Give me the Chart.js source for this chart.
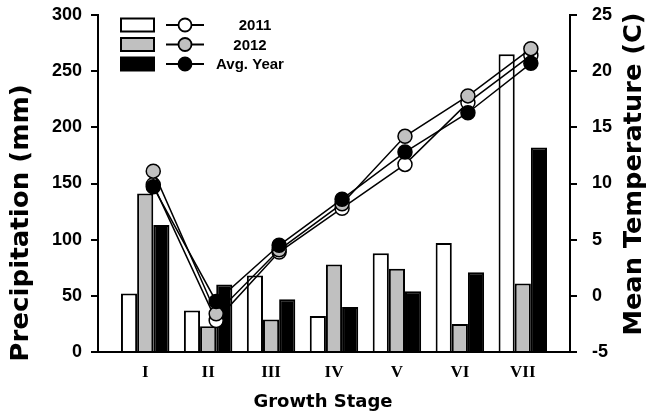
<!DOCTYPE html>
<html>
<head>
<meta charset="utf-8">
<script src="https://cdn.jsdelivr.net/npm/chart.js@4/dist/chart.umd.min.js"></script>
<style>
  html, body { margin: 0; padding: 0; background: #fff; }
  canvas { display: block; }
</style>
</head>
<body>
<canvas id="climateChart" width="648" height="419"></canvas>
<script>
// growth stages and stage-wise climate values
const stages = ['I', 'II', 'III', 'IV', 'V', 'VI', 'VII'];

const precip2011 = [52, 37, 68, 32, 88, 97, 265];
const precip2012 = [141, 23, 29, 78, 74, 25, 61];
const precipAvg = [113, 60, 47, 40, 54, 71, 182];

const temp2011 = [9.9, -2.2, 3.9, 7.8, 11.7, 17.2, 21.4];
const temp2012 = [11.1, -1.6, 4.1, 8.2, 14.2, 17.8, 22.0];
const tempAvg = [9.7, -0.5, 4.5, 8.6, 12.8, 16.3, 20.7];

const precipTicks = [0, 50, 100, 150, 200, 250, 300];
const tempTicks = [-5, 0, 5, 10, 15, 20, 25];

const seriesNames = ['2011', '2012', 'Avg. Year'];

(() => {
    const chartEl = document.getElementById('climateChart');
    const context = chartEl.getContext('2d');

    // temperature markers sit between the grey and black bars
    const lineShift = 0.128;
    const fills = ['#ffffff', '#c0c0c0', '#000000'];

    const barSet = (label, values, fill, order) => ({
        type: 'bar',
        label: label,
        data: values.map((v, i) => ({ x: i + 1, y: v })),
        backgroundColor: fill,
        borderColor: '#000000',
        borderWidth: 2,
        borderSkipped: 'bottom',
        categoryPercentage: 0.77,
        barPercentage: 1.0,
        yAxisID: 'y',
        order: order,
    });

    const lineSet = (label, values, fill, order) => ({
        type: 'line',
        label: label,
        data: values.map((v, i) => ({ x: i + 1 + lineShift, y: v })),
        borderColor: '#000000',
        borderWidth: 1.5,
        pointBackgroundColor: fill,
        pointBorderColor: '#000000',
        pointBorderWidth: 1.5,
        pointRadius: 7,
        tension: 0,
        fill: false,
        clip: false,
        yAxisID: 'y2',
        order: order,
    });

    const datasets = [
        barSet(seriesNames[0], precip2011, fills[0], 4),
        barSet(seriesNames[1], precip2012, fills[1], 5),
        barSet(seriesNames[2], precipAvg, fills[2], 6),
        lineSet(seriesNames[0], temp2011, fills[0], 3),
        lineSet(seriesNames[1], temp2012, fills[1], 2),
        lineSet(seriesNames[2], tempAvg, fills[2], 1),
    ];

    const titleFamily = '"DejaVu Sans", Verdana, sans-serif';

    // rotated title, stretched a little along the text direction
    const sideTitle = (ctx, text, x, y, stretch) => {
        ctx.save();
        ctx.translate(x, y);
        ctx.rotate(-Math.PI / 2);
        ctx.scale(stretch, 1);
        ctx.fillText(text, 0, 0);
        ctx.restore();
    };

    // box + marker legend and the three axis titles
    const decorations = {
        id: 'decorations',
        afterDraw(chart) {
            const ctx = chart.ctx;
            const left = chart.chartArea.left;
            const rowY = [25, 44.5, 64];
            const textX = [157, 152, 152];
            ctx.save();
            seriesNames.forEach((name, i) => {
                const y = rowY[i];
                ctx.fillStyle = fills[i];
                ctx.strokeStyle = '#000';
                ctx.lineWidth = 2;
                ctx.fillRect(left + 23, y - 6.5, 33, 13);
                ctx.strokeRect(left + 23, y - 6.5, 33, 13);

                ctx.lineWidth = 1.8;
                ctx.beginPath();
                ctx.moveTo(left + 68, y);
                ctx.lineTo(left + 106, y);
                ctx.stroke();
                ctx.beginPath();
                ctx.arc(left + 87, y, 6.5, 0, Math.PI * 2);
                ctx.fill();
                ctx.stroke();

                ctx.fillStyle = '#000';
                ctx.font = 'bold 15px "Liberation Sans", Arial, sans-serif';
                ctx.textAlign = 'center';
                ctx.textBaseline = 'middle';
                ctx.fillText(name, left + textX[i], y + 1);
            });

            ctx.fillStyle = '#000';
            ctx.textAlign = 'center';
            ctx.textBaseline = 'middle';

            ctx.font = 'bold 18px ' + titleFamily;
            ctx.fillText('Growth Stage', 323, 402);

            ctx.font = 'bold 25px ' + titleFamily;
            sideTitle(ctx, 'Precipitation (mm)', 21, 223, 1.045);
            sideTitle(ctx, 'Mean Temperature (C)', 634, 174, 1.026);

            ctx.restore();
        },
    };

    const tickFont = { family: '"Liberation Sans", Arial, sans-serif', size: 18, weight: 'bold' };

    const fitSide = (width) => (scale) => {
        scale.width = width;
        scale.paddingTop = 0;
        scale.paddingBottom = 0;
    };

    new Chart(context, {
        data: { datasets: datasets },
        options: {
            responsive: false,
            animation: false,
            layout: { autoPadding: false, padding: { top: 15 } },
            plugins: {
                legend: { display: false },
                tooltip: { enabled: false },
            },
            scales: {
                x: {
                    type: 'linear',
                    offset: false,
                    min: 0.25,
                    max: 7.75,
                    afterBuildTicks: (scale) => {
                        scale.ticks = stages.map((s, i) => ({ value: i + 1 }));
                    },
                    afterFit: (scale) => {
                        scale.height = 67;
                        scale.paddingLeft = 0;
                        scale.paddingRight = 0;
                    },
                    ticks: {
                        autoSkip: false,
                        maxRotation: 0,
                        padding: 2,
                        color: '#000',
                        font: { family: '"Liberation Serif", "Times New Roman", serif', size: 17, weight: 'bold' },
                        callback: (v) => stages[v - 1],
                    },
                    grid: { display: false, offset: false },
                    border: { color: '#000', width: 2 },
                },
                y: {
                    position: 'left',
                    min: 0,
                    max: 300,
                    afterBuildTicks: (scale) => {
                        scale.ticks = precipTicks.map((v) => ({ value: v }));
                    },
                    afterFit: fitSide(98),
                    ticks: { color: '#000', font: tickFont, padding: 9 },
                    grid: { drawOnChartArea: false, color: '#000', lineWidth: 2, tickLength: 7 },
                    border: { color: '#000', width: 2 },
                },
                y2: {
                    position: 'right',
                    min: -5,
                    max: 25,
                    afterBuildTicks: (scale) => {
                        scale.ticks = tempTicks.map((v) => ({ value: v }));
                    },
                    afterFit: fitSide(78),
                    ticks: { color: '#000', font: tickFont, padding: 15 },
                    grid: { drawOnChartArea: false, color: '#000', lineWidth: 2, tickLength: 7 },
                    border: { color: '#000', width: 2 },
                },
            },
        },
        plugins: [decorations],
    });
})();
</script>
</body>
</html>
